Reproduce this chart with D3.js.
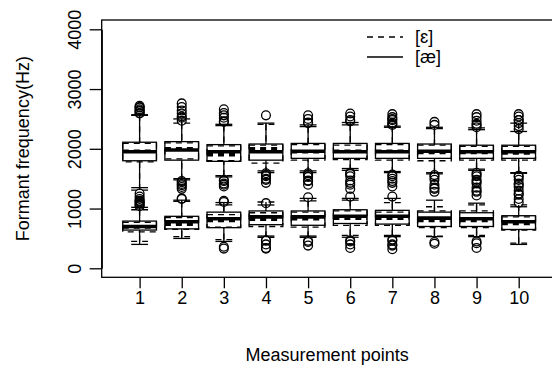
<!DOCTYPE html>
<html><head><meta charset="utf-8">
<script src="https://cdn.jsdelivr.net/npm/d3@7"></script>
<style>
html,body{margin:0;padding:0;background:#fff;}
svg{display:block;}
text{font-family:"Liberation Sans",Arial,Helvetica,sans-serif;}
</style></head>
<body>
<svg id="c" width="552" height="370"></svg>
<script>
// ---- data ----
const categories = [1,2,3,4,5,6,7,8,9,10];
const yTicks = [0,1000,2000,3000,4000];
const legendLabels = ["[ɛ]","[æ]"];

// stats: [lower whisker, Q1, median, Q3, upper whisker]
const f2_ae = [[1350,1800,1950,2110,2570],[1500,1810,1980,2120,2500],[1530,1790,1950,2070,2410],[1630,1810,1950,2080,2430],[1630,1840,1960,2090,2400],
               [1670,1840,1950,2090,2440],[1620,1840,1950,2090,2360],[1600,1840,1960,2080,2360],[1640,1840,1950,2060,2320],[1590,1840,1950,2060,2290]];
const f2_ae_out = [[2600,2630,2660,2690,2720],[2540,2590,2640,2700,2760,1460,1410,1360],[2460,2520,2600,2660,1480,1420,1370],[2560,1590,1540,1480,1430],[2440,2500,2560,1590,1530,1460,1400],
                   [2480,2540,2590,1600,1540,1470,1400,1330],[2400,2440,2480,2530,2580,1570,1500,1430,1370],[2400,2450,1560,1480,1400,1330,1280],[2360,2420,2470,2530,2580,1600,1540,1480,1420,1350,1280,1220],[2330,2380,2430,2480,2540,2580,1550,1480,1420,1360,1300,1230,1160,1100]];
const f2_e = [[1310,1780,1960,2090,2560],[1480,1830,2000,2100,2430],[1550,1800,1900,2050,2390],[1600,1760,2000,2060,2410],[1600,1810,1950,2070,2370],
              [1640,1820,1960,2060,2400],[1600,1810,1960,2070,2380],[1580,1800,1940,2060,2340],[1660,1810,1940,2040,2350],[1600,1810,1930,2040,2430]];
const f2_e_out = [[2590,2640,2700],[2470,2520,1440,1390,1330],[2450,2560,1460,1400],[1560,1500],[2430,1560,1470],
                  [2460,1580,1430],[2420,2500,1540,1460],[1530,1350],[2400,1570,1450,1300],[2480,1530,1400,1250]];
const f1_ae = [[400,640,700,790,1020],[500,660,780,870,1140],[450,680,830,940,1100],[540,730,860,960,1060],[540,720,860,960,1170],
               [520,750,870,980,1170],[530,740,870,970,1170],[530,700,840,940,1140],[530,700,830,930,1090],[400,650,780,880,1030]];
const f1_ae_out = [[1060,1100,1130,1160,1200,1250],[1160],[1130,330],[1090,460,400,340],[1190,440,380],
                   [1200,450,400,340],[1200,460,400,320],[410],[420,340],[]];
const f1_e = [[450,610,690,770,980],[530,650,740,850,1120],[480,690,800,900,1060],[520,700,820,930,1110],[520,690,830,940,1130],
              [550,720,840,960,1140],[550,720,840,940,1100],[540,680,800,960,1030],[550,680,800,960,1060],[420,640,750,860,1060]];
const f1_e_out = [[1040,1080,1120],[1170],[1110,360],[470,330],[460],
                  [470],[480,380],[440],[450],[]];

// ---- drawing ----
const svg = d3.select("#c");
const x = d3.scaleLinear().domain([0.1,10.9]).range([101.7,556.6]);
const y = d3.scaleLinear().domain([0,4000]).range([268.3,29.3]);
const FS = 18, LW = 1.3, DASH = "6,5";
const halfBox = x(1.4) - x(1), halfStaple = halfBox/2;

// plot frame
svg.append("rect").attr("x",x(0.1)).attr("y",y(4155.6)).attr("width",x(10.9)-x(0.1)).attr("height",y(-150.6)-y(4155.6))
  .attr("fill","none").attr("stroke","#000").attr("stroke-width",LW);

// y axis
const gy = svg.append("g").attr("transform",`translate(${x(0.1)},0)`)
  .call(d3.axisLeft(y).tickValues(yTicks).tickSize(12).tickSizeOuter(0).tickFormat(d3.format("d")));
gy.select(".domain").attr("stroke-width",LW);
gy.selectAll(".tick line").attr("stroke-width",LW);
gy.selectAll(".tick text").attr("x",null).attr("dy",null).attr("text-anchor","middle")
  .attr("transform","translate(-20.5,0) rotate(-90)").attr("font-size",FS).attr("font-family",null).attr("fill","#000");

// x axis
const gx = svg.append("g").attr("transform",`translate(0,${y(-150.6)})`)
  .call(d3.axisBottom(x).tickValues(categories).tickSize(11).tickSizeOuter(0).tickFormat(d3.format("d")));
gx.select(".domain").remove();
gx.selectAll(".tick line").attr("stroke-width",LW);
gx.selectAll(".tick text").attr("font-size",FS).attr("font-family",null).attr("fill","#000");

// axis titles
svg.append("text").attr("x",x(5.5)-2).attr("y",361).attr("text-anchor","middle").attr("font-size",FS).text("Measurement points");
svg.append("text").attr("transform",`translate(29,${(y(4155.6)+y(-150.6))/2}) rotate(-90)`).attr("text-anchor","middle").attr("font-size",FS).text("Formant frequency(Hz)");

function drawSeries(stats, outs, dashed){
  const g = svg.append("g").attr("fill","none").attr("stroke","#000").attr("stroke-width",LW);
  const da = dashed ? DASH : null;
  stats.forEach((s,i)=>{
    const cx = x(categories[i]);
    const [lo,q1,md,q3,hi] = s;
    // whiskers (from whisker end to box edge)
    g.append("line").attr("x1",cx).attr("x2",cx).attr("y1",y(lo)).attr("y2",y(q1)).attr("stroke-dasharray",da);
    g.append("line").attr("x1",cx).attr("x2",cx).attr("y1",y(hi)).attr("y2",y(q3)).attr("stroke-dasharray",da);
    // staples
    [lo,hi].forEach(v=>{
      g.append("line").attr("x1",cx-halfStaple).attr("x2",cx+halfStaple).attr("y1",y(v)).attr("y2",y(v))
        .attr("stroke-dasharray",da);
    });
    // box
    g.append("rect").attr("x",cx-halfBox).attr("y",y(q3)).attr("width",2*halfBox).attr("height",y(q1)-y(q3))
      .attr("stroke-dasharray",da);
    // median
    g.append("line").attr("x1",cx-halfBox).attr("x2",cx+halfBox).attr("y1",y(md)).attr("y2",y(md))
      .attr("stroke-width",3.6).attr("stroke-dasharray",da);
    // outliers
    outs[i].forEach(v=>{
      g.append("circle").attr("cx",cx).attr("cy",y(v)).attr("r",4.4);
    });
  });
}
drawSeries(f2_e, f2_e_out, true);
drawSeries(f1_e, f1_e_out, true);
drawSeries(f2_ae, f2_ae_out, false);
drawSeries(f1_ae, f1_ae_out, false);

// legend
const lg = svg.append("g");
[[37,true],[57,false]].forEach(([ly,d],k)=>{
  lg.append("line").attr("x1",367).attr("x2",403).attr("y1",ly).attr("y2",ly).attr("stroke","#000").attr("stroke-width",LW)
    .attr("stroke-dasharray",d?DASH:null);
  lg.append("text").attr("x",415).attr("y",ly).attr("dy","0.35em").attr("font-size",FS).text(legendLabels[k]);
});
</script>
</body></html>
